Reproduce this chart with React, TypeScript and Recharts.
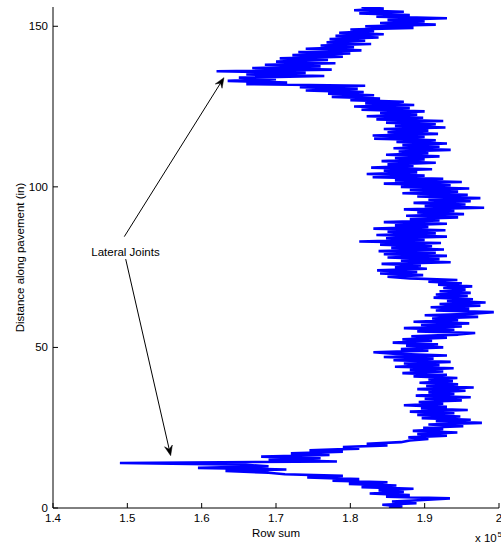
import React from 'react';
import { LineChart, Line, XAxis, YAxis, ReferenceLine, ReferenceDot, Label } from 'recharts';

// row sums (x 10^5), one sample every STEP inches along the pavement
const STEP = 0.5;
const ROW_SUM = [
  // 0 - 9.5 in
  1.852, 1.870, 1.843, 1.889, 1.856, 1.898, 1.934, 1.848, 1.880, 1.826,
  1.872, 1.838, 1.885, 1.815, 1.862, 1.798, 1.850, 1.776, 1.812, 1.742,
  // 10 - 19.5 in (first lateral joint)
  1.790, 1.712, 1.690, 1.632, 1.714, 1.595, 1.690, 1.655, 1.490, 1.782,
  1.690, 1.760, 1.680, 1.772, 1.720, 1.790, 1.745, 1.812, 1.790, 1.850,
  // 20 - 39.5 in
  1.822, 1.868, 1.880, 1.905, 1.878, 1.930, 1.890, 1.944, 1.884, 1.925,
  1.898, 1.952, 1.905, 1.977, 1.915, 1.962, 1.896, 1.948, 1.890, 1.940,
  1.880, 1.958, 1.895, 1.930, 1.872, 1.925, 1.892, 1.950, 1.900, 1.962,
  1.888, 1.940, 1.905, 1.955, 1.890, 1.966, 1.902, 1.945, 1.893, 1.938,
  // 40 - 59.5 in
  1.905, 1.944, 1.885, 1.930, 1.870, 1.925, 1.880, 1.939, 1.860, 1.920,
  1.872, 1.935, 1.858, 1.912, 1.845, 1.930, 1.862, 1.831, 1.905, 1.868,
  1.925, 1.875, 1.918, 1.857, 1.910, 1.870, 1.930, 1.882, 1.945, 1.968,
  1.890, 1.940, 1.872, 1.950, 1.895, 1.960, 1.885, 1.945, 1.910, 1.972,
  // 60 - 79.5 in
  1.900, 1.965, 1.993, 1.915, 1.960, 1.908, 1.975, 1.920, 1.982, 1.930,
  1.965, 1.912, 1.958, 1.915, 1.962, 1.920, 1.955, 1.925, 1.964, 1.918,
  1.950, 1.905, 1.944, 1.880, 1.850, 1.898, 1.840, 1.890, 1.836, 1.903,
  1.860, 1.895, 1.842, 1.935, 1.868, 1.920, 1.850, 1.930, 1.845, 1.915,
  // 80 - 99.5 in
  1.838, 1.926, 1.855, 1.910, 1.840, 1.922, 1.812, 1.900, 1.848, 1.930,
  1.835, 1.915, 1.850, 1.928, 1.831, 1.905, 1.860, 1.930, 1.845, 1.920,
  1.880, 1.945, 1.875, 1.953, 1.890, 1.940, 1.872, 1.980, 1.900, 1.955,
  1.885, 1.962, 1.905, 1.975, 1.890, 1.958, 1.870, 1.945, 1.880, 1.960,
  // 100 - 119.5 in
  1.868, 1.935, 1.845, 1.950, 1.860, 1.925, 1.830, 1.900, 1.822, 1.890,
  1.845, 1.910, 1.828, 1.885, 1.850, 1.915, 1.842, 1.900, 1.860, 1.920,
  1.848, 1.905, 1.865, 1.935, 1.858, 1.920, 1.870, 1.930, 1.862, 1.915,
  1.832, 1.900, 1.830, 1.918, 1.850, 1.905, 1.845, 1.928, 1.860, 1.915,
  // 120 - 139.5 in (second lateral joint)
  1.848, 1.925, 1.835, 1.898, 1.822, 1.890, 1.840, 1.900, 1.815, 1.880,
  1.805, 1.886, 1.820, 1.872, 1.800, 1.840, 1.775, 1.832, 1.770, 1.818,
  1.740, 1.810, 1.732, 1.820, 1.660, 1.715, 1.635, 1.700, 1.650, 1.765,
  1.660, 1.740, 1.620, 1.775, 1.668, 1.760, 1.685, 1.780, 1.700, 1.770,
  // 140 - 156 in
  1.705, 1.790, 1.722, 1.800, 1.730, 1.815, 1.740, 1.805, 1.760, 1.828,
  1.768, 1.820, 1.772, 1.838, 1.780, 1.845, 1.785, 1.832, 1.800, 1.885,
  1.820, 1.915, 1.840, 1.900, 1.850, 1.930, 1.835, 1.880, 1.812, 1.872,
  1.805, 1.845, 1.815,
];

const X_TICKS = [1.4, 1.5, 1.6, 1.7, 1.8, 1.9, 2];
const Y_TICKS = [0, 50, 100, 150];
const X_DOMAIN = [1.4, 2];
const Y_DOMAIN = [0, 156];

// annotation: label position and the two arrows (start -> tip), in data units
const NOTE_TEXT = 'Lateral Joints';
const NOTE_POS = { x: 1.4975, y: 79.8 };
const ARROWS = [
  [{ x: 1.4959, y: 84.5 }, { x: 1.63, y: 134.0 }],
  [{ x: 1.4978, y: 77.5 }, { x: 1.5583, y: 16.3 }],
];

const FONT = '"Liberation Sans", Arial, Helvetica, sans-serif';
const FS = 11.5;

const data = ROW_SUM.map((sum, i) => ({ dist: i * STEP, sum }));

const BottomTick = (props: any) => {
  const { x, y, payload } = props;
  return (
    <g>
      <line x1={x} y1={y} x2={x} y2={y - 5} stroke="#000" />
      <text x={x} y={y + 14} textAnchor="middle" fontSize={FS} fontFamily={FONT} fill="#000">
        {payload.value}
      </text>
    </g>
  );
};

const TopTick = (props: any) => {
  const { x, y } = props;
  return <line x1={x} y1={y} x2={x} y2={y + 5} stroke="#000" />;
};

const LeftTick = (props: any) => {
  const { x, y, payload } = props;
  return (
    <g>
      <line x1={x} y1={y} x2={x + 5} y2={y} stroke="#000" />
      <text x={x - 5} y={y + 4} textAnchor="end" fontSize={FS} fontFamily={FONT} fill="#000">
        {payload.value}
      </text>
    </g>
  );
};

const RightTick = (props: any) => {
  const { x, y } = props;
  return <line x1={x} y1={y} x2={x - 5} y2={y} stroke="#000" />;
};

const Arrow = (props: any) => {
  const { x1, y1, x2, y2 } = props;
  const ang = Math.atan2(y2 - y1, x2 - x1);
  const len = 10;
  const half = 4;
  const cos = Math.cos(ang);
  const sin = Math.sin(ang);
  const bx = x2 - len * cos;
  const by = y2 - len * sin;
  const nx = x2 - len * 0.65 * cos;
  const ny = y2 - len * 0.65 * sin;
  const head = `M${x2},${y2} L${bx - half * sin},${by + half * cos} L${nx},${ny} L${bx + half * sin},${by - half * cos} Z`;
  return (
    <g>
      <line x1={x1} y1={y1} x2={nx} y2={ny} stroke="#000" strokeWidth={1} />
      <path d={head} fill="#000" stroke="#000" strokeWidth={0.5} />
    </g>
  );
};

const XAxisTitles = (props: any) => {
  const { viewBox } = props;
  const { x, y, width } = viewBox;
  return (
    <g fontFamily={FONT} fill="#000">
      <text x={x + width / 2} y={y + 28.5} textAnchor="middle" fontSize={FS}>
        Row sum
      </text>
      <text x={x + width - 24} y={y + 34} fontSize={FS}>
        x 10
      </text>
      <text x={x + width - 1.5} y={y + 28.5} fontSize={8}>
        5
      </text>
    </g>
  );
};

const YAxisTitle = (props: any) => {
  const { viewBox } = props;
  const { y, height } = viewBox;
  const cx = 23.5;
  const cy = y + height / 2;
  return (
    <text
      x={cx}
      y={cy}
      transform={`rotate(-90, ${cx}, ${cy})`}
      textAnchor="middle"
      fontSize={FS}
      fontFamily={FONT}
      fill="#000"
    >
      Distance along pavement (in)
    </text>
  );
};

export default function App() {
  return (
    <div style={{ position: 'absolute', left: 0, top: 0, background: '#fff' }}>
      <LineChart
        width={501}
        height={546}
        data={data}
        layout="vertical"
        margin={{ top: 7, right: 2, bottom: 0, left: 0 }}
      >
        <XAxis
          type="number"
          dataKey="sum"
          domain={X_DOMAIN}
          ticks={X_TICKS}
          allowDataOverflow
          height={38}
          tickSize={0}
          tickMargin={0}
          tickLine={false}
          axisLine={{ stroke: '#000' }}
          tick={<BottomTick />}
          interval={0}
        >
          <Label content={<XAxisTitles />} />
        </XAxis>
        <XAxis
          xAxisId="top"
          orientation="top"
          type="number"
          domain={X_DOMAIN}
          ticks={X_TICKS}
          allowDataOverflow
          height={0}
          tickSize={0}
          tickMargin={0}
          tickLine={false}
          axisLine={{ stroke: '#000' }}
          tick={<TopTick />}
          interval={0}
        />
        <YAxis
          type="number"
          dataKey="dist"
          domain={Y_DOMAIN}
          ticks={Y_TICKS}
          allowDataOverflow
          reversed
          width={53}
          tickSize={0}
          tickMargin={0}
          tickLine={false}
          axisLine={{ stroke: '#000' }}
          tick={<LeftTick />}
          interval={0}
        >
          <Label content={<YAxisTitle />} />
        </YAxis>
        <YAxis
          yAxisId="right"
          orientation="right"
          type="number"
          domain={Y_DOMAIN}
          ticks={Y_TICKS}
          allowDataOverflow
          reversed
          width={0}
          tickSize={0}
          tickMargin={0}
          tickLine={false}
          axisLine={{ stroke: '#000' }}
          tick={<RightTick />}
          interval={0}
        />
        <Line
          dataKey="sum"
          stroke="#0000ff"
          strokeWidth={2.6}
          strokeLinejoin="bevel"
          dot={false}
          activeDot={false}
          isAnimationActive={false}
        />
        {ARROWS.map((seg, i) => (
          <ReferenceLine key={i} segment={seg} shape={<Arrow />} ifOverflow="visible" />
        ))}
        <ReferenceDot
          x={NOTE_POS.x}
          y={NOTE_POS.y}
          r={0}
          fill="none"
          stroke="none"
          ifOverflow="visible"
          label={{ value: NOTE_TEXT, position: 'center', fontSize: FS, fontFamily: FONT, fill: '#000' }}
        />
      </LineChart>
    </div>
  );
}
